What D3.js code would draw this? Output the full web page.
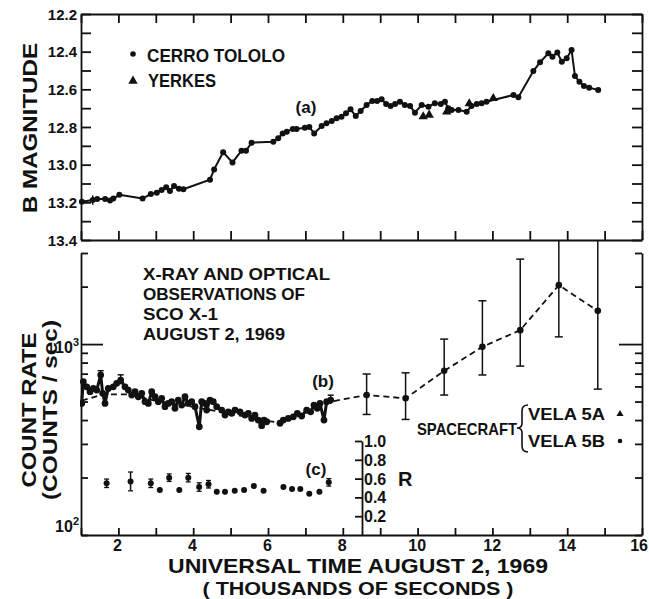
<!DOCTYPE html>
<html><head><meta charset="utf-8">
<script src="https://cdn.jsdelivr.net/npm/d3@7"></script>
<style>
body{margin:0;background:#fff}
text{font-family:"Liberation Sans",Arial,sans-serif;font-weight:bold;fill:#111}
</style>
</head><body><svg id="c" width="649" height="599"></svg>
<script>
// ---------- DATA ----------
// (a) B magnitude, Cerro Tololo (time in thousands of seconds UT)
const tololoT = [1.05,1.34,1.46,1.67,1.80,1.89,2.05,2.67,2.89,3.05,3.18,3.30,3.40,3.51,3.64,3.76,4.47,4.58,4.82,5.07,5.31,5.43,5.58,6.16,6.29,6.41,6.52,6.68,6.78,7.00,7.12,7.25,7.45,7.58,7.72,7.85,7.98,8.10,8.22,8.36,8.49,8.65,8.80,8.93,9.05,9.17,9.29,9.41,9.54,9.67,9.81,9.94,10.12,10.30,10.47,10.63,10.74,10.83,10.92,11.10,11.32,11.45,11.59,11.72,11.85,12.57,12.70,13.10,13.28,13.50,13.61,13.74,13.86,13.99,14.12,14.21,14.33,14.45,14.59,14.83];
const tololoB = [13.197,13.188,13.182,13.182,13.19,13.18,13.16,13.18,13.156,13.149,13.135,13.12,13.14,13.113,13.128,13.13,13.08,13.025,12.934,12.988,12.926,12.926,12.883,12.878,12.86,12.834,12.825,12.81,12.81,12.804,12.80,12.834,12.795,12.78,12.768,12.754,12.745,12.727,12.706,12.742,12.715,12.683,12.662,12.662,12.653,12.678,12.689,12.678,12.666,12.683,12.689,12.724,12.683,12.692,12.674,12.678,12.666,12.701,12.71,12.71,12.719,12.689,12.678,12.674,12.666,12.63,12.642,12.503,12.456,12.409,12.427,12.405,12.453,12.435,12.391,12.529,12.56,12.582,12.591,12.604];
// (a) Yerkes
const yerkesT = [10.16,10.32,10.79,11.39,12.03];
const yerkesB = [12.745,12.736,12.719,12.676,12.648];
// (b) X-ray count rate, dense Vela 5B record
const xrayT = [1.045,1.088,1.179,1.267,1.355,1.446,1.552,1.606,1.667,1.755,1.889,1.979,2.086,2.201,2.289,2.380,2.468,2.556,2.647,2.735,2.823,2.914,3.002,3.090,3.180,3.268,3.357,3.447,3.535,3.623,3.714,3.802,3.890,3.981,4.069,4.184,4.248,4.336,4.381,4.469,4.557,4.648,4.782,4.870,4.958,5.049,5.137,5.270,5.404,5.492,5.582,5.670,5.758,5.849,5.911,5.983,6.338,6.426,6.559,6.693,6.800,6.917,7.050,7.157,7.245,7.333,7.405,7.512,7.584,7.691];
const xrayC = [489,635,597,563,586,574,688,552,489,586,597,623,648,597,574,541,563,530,552,499,489,563,530,499,520,470,489,499,461,509,479,530,489,499,470,369,499,489,451,509,499,470,451,425,442,434,451,442,425,434,408,425,400,374,400,392,385,400,408,416,434,420,451,442,479,461,489,400,499,509];
const xrayErrT  = [1.552,2.086,7.691];
const xrayErrLo = [655,615,485];
const xrayErrHi = [725,690,540];
// (b) smoothed mean of dense record
const meanT = [1.05,1.6,2.3,3.0,4.0,5.0,6.0,6.35,7.0,7.7];
const meanC = [505,545,545,505,470,432,395,388,430,500];
// (b) binned spacecraft points with error bars
const binT  = [8.65,9.69,10.72,11.74,12.75,13.78,14.82];
const binC  = [541,520,724,968,1183,2036,1493];
const binLo = [428,403,541,689,767,1091,581];
const binHi = [697,707,1062,1686,2786,4500,4500];
// (c) R ratio
const rT = [1.71,2.35,2.89,3.13,3.38,3.65,3.89,4.18,4.43,4.65,4.87,5.13,5.38,5.64,5.90,6.43,6.66,6.88,7.12,7.39,7.64];
const rV = [0.55,0.57,0.55,0.48,0.61,0.48,0.61,0.51,0.54,0.46,0.46,0.47,0.48,0.52,0.47,0.51,0.49,0.49,0.44,0.46,0.56];
const rE = [0.045,0.10,0.045,0.03,0.04,0.03,0.045,0.045,0.04,0.03,0.03,0.02,0.02,0.02,0.02,0.02,0.02,0.02,0.02,0.02,0.04];
// tick values / labels
const magTicks = [12.2,12.4,12.6,12.8,13.0,13.2,13.4];
const timeLabels = [2,4,6,8,10,12,14,16];
const rTicks = [0.2,0.4,0.6,0.8,1.0];
const titleLines = ["X-RAY AND OPTICAL","OBSERVATIONS OF","SCO X-1","AUGUST 2, 1969"];

// ---------- SCALES ----------
const svg = d3.select("#c");
const x = d3.scaleLinear().domain([1,16]).range([80,642]);
const yTop = d3.scaleLinear().domain([12.2,13.4]).range([14,240]);
const yBot = d3.scaleLog().domain([100,3000]).range([535,253]);
const yR = d3.scaleLinear().domain([0,1]).range([535,441]);
const SW = 1.8;

function styleAxis(g){
  g.selectAll("path,line").attr("stroke","#111").attr("stroke-width",SW);
  g.selectAll("text").remove();
}

// ---------- TOP PANEL AXES ----------
const minorMag = d3.range(0,13).map(i => +(12.2+i*0.1).toFixed(1));
const secTicks = d3.range(1,17);
const xa = x.copy().range([81,642]);
svg.append("g").attr("transform","translate(81,0)")
  .call(d3.axisLeft(yTop).tickValues(minorMag).tickSize(-10).tickSizeOuter(0)).call(styleAxis);
svg.append("g").attr("transform","translate(642,0)")
  .call(d3.axisRight(yTop).tickValues(minorMag).tickSize(-10).tickSizeOuter(0)).call(styleAxis);
svg.append("g").attr("transform","translate(0,14)")
  .call(d3.axisTop(xa).tickValues(secTicks).tickSize(-9).tickSizeOuter(0)).call(styleAxis);
svg.append("g").attr("transform","translate(0,240)")
  .call(d3.axisBottom(xa).tickValues(secTicks).tickSize(-9).tickSizeOuter(0)).call(styleAxis);
svg.append("g").selectAll("text").data(magTicks).join("text")
  .attr("x",77).attr("y",d=>yTop(d)+5.5).attr("text-anchor","end")
  .attr("font-size",15).text(d=>d.toFixed(1));

// ---------- BOTTOM PANEL AXES ----------
const logTicks = [100,200,300,400,500,600,700,800,900,1000,2000,3000];
function longTick(g, len){
  g.selectAll(".tick").filter(d=>d===1000).select("line").attr("x2",len);
}
svg.append("g").attr("transform","translate(81,0)")
  .call(d3.axisLeft(yBot).tickValues(logTicks).tickSize(-7).tickSizeOuter(0)).call(styleAxis).call(g=>longTick(g,22));
svg.append("g").attr("transform","translate(642,0)")
  .call(d3.axisRight(yBot).tickValues(logTicks).tickSize(-7).tickSizeOuter(0)).call(styleAxis).call(g=>longTick(g,-23));
svg.append("g").attr("transform","translate(0,535)")
  .call(d3.axisBottom(xa).tickValues(secTicks).tickSize(-7).tickSizeOuter(0)).call(styleAxis);
svg.append("g").selectAll("text").data(timeLabels).join("text")
  .attr("x",d=>d===16?648:x(d)).attr("y",551)
  .attr("text-anchor",d=>d===16?"end":"middle").attr("font-size",16).text(d=>d);
// 10^2, 10^3 labels
[[100,2,-3],[1000,3,9]].forEach(([v,e,dy])=>{
  const t = svg.append("text").attr("x",79).attr("y",yBot(v)+dy).attr("text-anchor","end").attr("font-size",16);
  t.append("tspan").text("10");
  t.append("tspan").attr("font-size",11).attr("dy",-7).text(e);
});

// R inset axis
svg.append("g").attr("transform","translate(362,0)")
  .call(d3.axisRight(yR).tickValues(rTicks).tickSize(-7).tickSizeOuter(0)).call(styleAxis);
svg.append("g").selectAll("text").data(rTicks).join("text")
  .attr("x",364).attr("y",d=>yR(d)+6).attr("font-size",16).text(d=>d.toFixed(1));
svg.append("text").attr("x",398).attr("y",486).attr("font-size",20).text("R");

// ---------- TOP PANEL DATA ----------
const tololo = tololoT.map((t,i)=>[t,tololoB[i]]);
svg.append("path").datum(tololo)
  .attr("d",d3.line().x(d=>x(d[0])).y(d=>yTop(d[1])))
  .attr("fill","none").attr("stroke","#111").attr("stroke-width",2);
svg.append("g").selectAll("circle").data(tololo).join("circle")
  .attr("cx",d=>x(d[0])).attr("cy",d=>yTop(d[1])).attr("r",3).attr("fill","#111");
svg.append("line").attr("x1",x(1.34)).attr("x2",x(1.34))
  .attr("y1",yTop(13.163)).attr("y2",yTop(13.213)).attr("stroke","#111").attr("stroke-width",1.5);
const tri = d3.symbol().type(d3.symbolTriangle).size(38);
svg.append("g").selectAll("path").data(yerkesT.map((t,i)=>[t,yerkesB[i]])).join("path")
  .attr("transform",d=>`translate(${x(d[0])},${yTop(d[1])})`).attr("d",tri).attr("fill","#111");

// ---------- BOTTOM PANEL DATA ----------
svg.append("clipPath").attr("id","bc").append("rect")
  .attr("x",80).attr("y",240).attr("width",563).attr("height",296);
const gb = svg.append("g").attr("clip-path","url(#bc)");
const lineB = d3.line().x(d=>x(d[0])).y(d=>yBot(d[1]));
const meanPts = meanT.map((t,i)=>[t,meanC[i]]).concat(binT.map((t,i)=>[t,binC[i]]));
gb.append("path").datum(meanPts).attr("d",lineB).attr("fill","none")
  .attr("stroke","#111").attr("stroke-width",1.8).attr("stroke-dasharray","6,4");
const xr = xrayT.map((t,i)=>[t,xrayC[i]]);
const segs=[]; let cur=[xr[0]];
for(let i=1;i<xr.length;i++){ if(xr[i][0]-xr[i-1][0]>0.25){segs.push(cur);cur=[];} cur.push(xr[i]); }
segs.push(cur);
gb.selectAll(".seg").data(segs).join("path").attr("class","seg").attr("d",lineB)
  .attr("fill","none").attr("stroke","#111").attr("stroke-width",3).attr("stroke-linejoin","round");
gb.append("g").selectAll("circle").data(xr).join("circle")
  .attr("cx",d=>x(d[0])).attr("cy",d=>yBot(d[1])).attr("r",3.4).attr("fill","#111");
xrayErrT.forEach((t,i)=>{
  const cx=x(t);
  gb.append("line").attr("x1",cx).attr("x2",cx).attr("y1",yBot(xrayErrLo[i])).attr("y2",yBot(xrayErrHi[i])).attr("stroke","#111").attr("stroke-width",1.5);
  gb.append("line").attr("x1",cx-3).attr("x2",cx+3).attr("y1",yBot(xrayErrHi[i])).attr("y2",yBot(xrayErrHi[i])).attr("stroke","#111").attr("stroke-width",1.5);
});
binT.forEach((t,i)=>{
  const cx=x(t);
  gb.append("line").attr("x1",cx).attr("x2",cx).attr("y1",yBot(binLo[i])).attr("y2",yBot(binHi[i])).attr("stroke","#111").attr("stroke-width",1.5);
  [binLo[i],binHi[i]].forEach(v=>gb.append("line").attr("x1",cx-4).attr("x2",cx+4).attr("y1",yBot(v)).attr("y2",yBot(v)).attr("stroke","#111").attr("stroke-width",1.5));
  gb.append("circle").attr("cx",cx).attr("cy",yBot(binC[i])).attr("r",3.3).attr("fill","#111");
});
rT.forEach((t,i)=>{
  const cx=x(t);
  svg.append("line").attr("x1",cx).attr("x2",cx).attr("y1",yR(rV[i]-rE[i])).attr("y2",yR(rV[i]+rE[i])).attr("stroke","#111").attr("stroke-width",1.5);
  if(rE[i]>=0.04){
    [rV[i]-rE[i],rV[i]+rE[i]].forEach(v=>svg.append("line").attr("x1",cx-2.5).attr("x2",cx+2.5).attr("y1",yR(v)).attr("y2",yR(v)).attr("stroke","#111").attr("stroke-width",1.3));
  }
  svg.append("circle").attr("cx",cx).attr("cy",yR(rV[i])).attr("r",3).attr("fill","#111");
});

// ---------- TEXT ----------
function txt(s,xp,yp,size,len,anchor){
  const t=svg.append("text").attr("x",xp).attr("y",yp).attr("font-size",size).text(s);
  if(anchor) t.attr("text-anchor",anchor);
  if(len) t.attr("textLength",len).attr("lengthAdjust","spacingAndGlyphs");
  return t;
}
svg.append("circle").attr("cx",133).attr("cy",54).attr("r",2.8).attr("fill","#111");
txt("CERRO TOLOLO",147,62,19,138);
svg.append("path").attr("transform","translate(133,81)").attr("d",tri).attr("fill","#111");
txt("YERKES",148,87,18,68);
txt("(a)",306,113,17,null,"middle");
txt("(b)",323,387,17,null,"middle");
txt("(c)",316,475,17,null,"middle");
const tlens=[187,162,75,142];
titleLines.forEach((s,i)=>txt(s,143,280+i*20,17,tlens[i]));
txt("SPACECRAFT",417,435,17,100);
svg.append("path").attr("d","M528,405 Q522,405 522,411 L522,423 Q522,428 517,428 Q522,428 522,433 L522,446 Q522,452 528,452")
  .attr("fill","none").attr("stroke","#111").attr("stroke-width",1.6);
txt("VELA 5A",528,420,17,77);
txt("VELA 5B",528,447,17,77);
svg.append("path").attr("transform","translate(620,414)").attr("d",d3.symbol().type(d3.symbolTriangle).size(22)).attr("fill","#111");
svg.append("circle").attr("cx",620).attr("cy",441).attr("r",2.3).attr("fill","#111");
svg.append("text").attr("transform","translate(37,128) rotate(-90)").attr("text-anchor","middle")
  .attr("font-size",21).attr("textLength",170).attr("lengthAdjust","spacingAndGlyphs").text("B MAGNITUDE");
svg.append("text").attr("transform","translate(36,410) rotate(-90)").attr("text-anchor","middle")
  .attr("font-size",20).attr("textLength",155).attr("lengthAdjust","spacingAndGlyphs").text("COUNT RATE");
svg.append("text").attr("transform","translate(57,410) rotate(-90)").attr("text-anchor","middle")
  .attr("font-size",20).attr("textLength",180).attr("lengthAdjust","spacingAndGlyphs").text("(COUNTS / sec)");
txt("UNIVERSAL TIME AUGUST 2, 1969",358,573,20,380,"middle");
txt("( THOUSANDS OF SECONDS )",358,595,19,311,"middle");
</script>
</body></html>
